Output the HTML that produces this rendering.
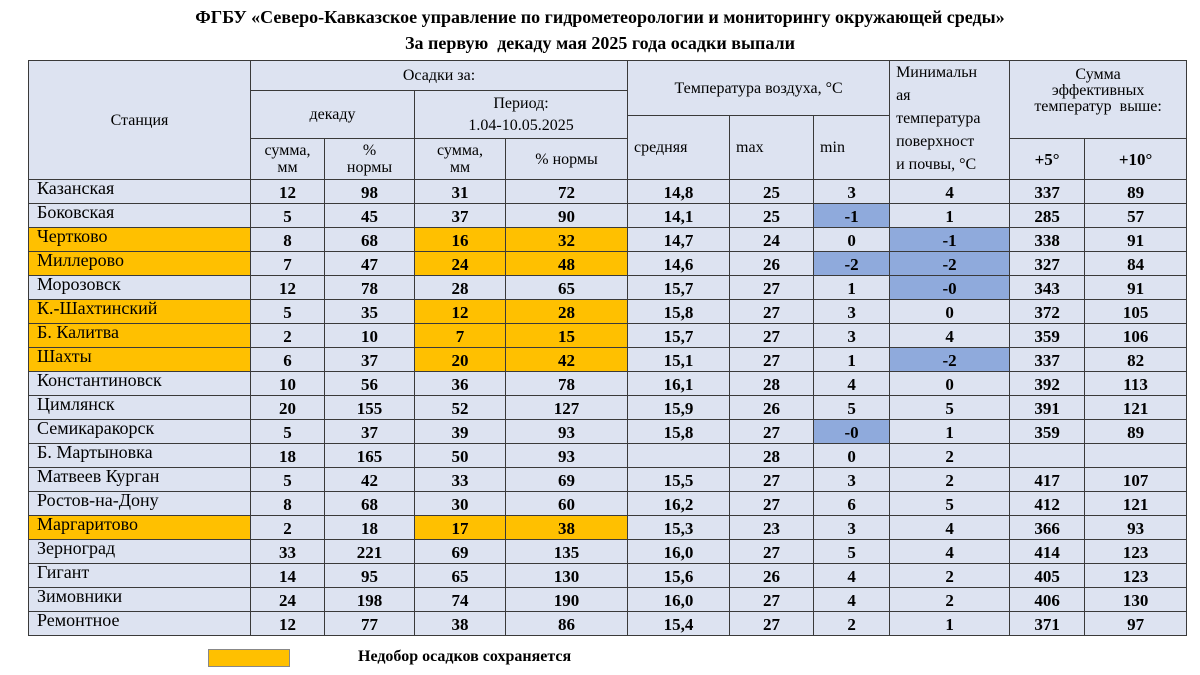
<!DOCTYPE html>
<html><head><meta charset="utf-8"><style>
body{margin:0;width:1200px;height:675px;background:#fff;font-family:"Liberation Serif",serif;position:relative;overflow:hidden}
.t{position:absolute;left:0;width:1200px;text-align:center;font-weight:bold;font-size:18px}
table{position:absolute;left:28px;top:60px;border-collapse:collapse;table-layout:fixed;width:1158px;background:#dde3f1}
td{border:1px solid #3a3a3a;padding:0;text-align:center;font-size:16px;line-height:17px;overflow:hidden;white-space:nowrap}
tr.d{height:24px}
tr.d td{height:20px;font-weight:bold;font-size:17px;padding:3px 0 0 0;line-height:20px}
tr.d td.s{text-align:left;font-weight:normal;padding:0 0 0 8px;height:23px;vertical-align:top;font-size:18px;line-height:17px}
.o{background:#ffc000}.b{background:#8faadc}
.l{text-align:left!important;padding-left:6px!important}
</style></head><body>
<div class="t" style="top:7px">ФГБУ «Северо-Кавказское управление по гидрометеорологии и мониторингу окружающей среды»</div>
<div class="t" style="top:33px">За первую&nbsp; декаду мая 2025 года осадки выпали</div>
<table>
<colgroup><col style="width:222px"><col style="width:74px"><col style="width:90px"><col style="width:91px"><col style="width:122px"><col style="width:102px"><col style="width:84px"><col style="width:76px"><col style="width:120px"><col style="width:75px"><col style="width:102px"></colgroup>
<tr style="height:30px"><td rowspan="4">Станция</td><td colspan="4">Осадки за:</td><td colspan="3" rowspan="2">Температура воздуха, °С</td><td rowspan="4" class="l" style="vertical-align:top;line-height:23px;padding-top:0;height:118px"><div style="height:118px;overflow:hidden">Минимальн<br>ая<br>температура<br>поверхност<br>и почвы, °С</div></td><td colspan="2" rowspan="3" style="line-height:16px;padding-top:6px;vertical-align:top">Сумма<br>эффективных<br>температур&nbsp; выше:</td></tr>
<tr style="height:25px"><td colspan="2" rowspan="2">декаду</td><td colspan="2" rowspan="2" style="line-height:22px">Период:<br>1.04-10.05.2025</td></tr>
<tr style="height:23px"><td rowspan="2" class="l">средняя</td><td rowspan="2" class="l">max</td><td rowspan="2" class="l">min</td></tr>
<tr style="height:41px"><td>сумма,<br>мм</td><td>%<br>нормы</td><td>сумма,<br>мм</td><td>% нормы</td><td style="font-weight:bold;font-size:17px">+5°</td><td style="font-weight:bold;font-size:17px">+10°</td></tr>
<tr class="d"><td class="s">Казанская</td><td>12</td><td>98</td><td>31</td><td>72</td><td>14,8</td><td>25</td><td>3</td><td>4</td><td>337</td><td>89</td></tr>
<tr class="d"><td class="s">Боковская</td><td>5</td><td>45</td><td>37</td><td>90</td><td>14,1</td><td>25</td><td class="b">-1</td><td>1</td><td>285</td><td>57</td></tr>
<tr class="d"><td class="s o">Чертково</td><td>8</td><td>68</td><td class="o">16</td><td class="o">32</td><td>14,7</td><td>24</td><td>0</td><td class="b">-1</td><td>338</td><td>91</td></tr>
<tr class="d"><td class="s o">Миллерово</td><td>7</td><td>47</td><td class="o">24</td><td class="o">48</td><td>14,6</td><td>26</td><td class="b">-2</td><td class="b">-2</td><td>327</td><td>84</td></tr>
<tr class="d"><td class="s">Морозовск</td><td>12</td><td>78</td><td>28</td><td>65</td><td>15,7</td><td>27</td><td>1</td><td class="b">-0</td><td>343</td><td>91</td></tr>
<tr class="d"><td class="s o">К.-Шахтинский</td><td>5</td><td>35</td><td class="o">12</td><td class="o">28</td><td>15,8</td><td>27</td><td>3</td><td>0</td><td>372</td><td>105</td></tr>
<tr class="d"><td class="s o">Б. Калитва</td><td>2</td><td>10</td><td class="o">7</td><td class="o">15</td><td>15,7</td><td>27</td><td>3</td><td>4</td><td>359</td><td>106</td></tr>
<tr class="d"><td class="s o">Шахты</td><td>6</td><td>37</td><td class="o">20</td><td class="o">42</td><td>15,1</td><td>27</td><td>1</td><td class="b">-2</td><td>337</td><td>82</td></tr>
<tr class="d"><td class="s">Константиновск</td><td>10</td><td>56</td><td>36</td><td>78</td><td>16,1</td><td>28</td><td>4</td><td>0</td><td>392</td><td>113</td></tr>
<tr class="d"><td class="s">Цимлянск</td><td>20</td><td>155</td><td>52</td><td>127</td><td>15,9</td><td>26</td><td>5</td><td>5</td><td>391</td><td>121</td></tr>
<tr class="d"><td class="s">Семикаракорск</td><td>5</td><td>37</td><td>39</td><td>93</td><td>15,8</td><td>27</td><td class="b">-0</td><td>1</td><td>359</td><td>89</td></tr>
<tr class="d"><td class="s">Б. Мартыновка</td><td>18</td><td>165</td><td>50</td><td>93</td><td></td><td>28</td><td>0</td><td>2</td><td></td><td></td></tr>
<tr class="d"><td class="s">Матвеев Курган</td><td>5</td><td>42</td><td>33</td><td>69</td><td>15,5</td><td>27</td><td>3</td><td>2</td><td>417</td><td>107</td></tr>
<tr class="d"><td class="s">Ростов-на-Дону</td><td>8</td><td>68</td><td>30</td><td>60</td><td>16,2</td><td>27</td><td>6</td><td>5</td><td>412</td><td>121</td></tr>
<tr class="d"><td class="s o">Маргаритово</td><td>2</td><td>18</td><td class="o">17</td><td class="o">38</td><td>15,3</td><td>23</td><td>3</td><td>4</td><td>366</td><td>93</td></tr>
<tr class="d"><td class="s">Зерноград</td><td>33</td><td>221</td><td>69</td><td>135</td><td>16,0</td><td>27</td><td>5</td><td>4</td><td>414</td><td>123</td></tr>
<tr class="d"><td class="s">Гигант</td><td>14</td><td>95</td><td>65</td><td>130</td><td>15,6</td><td>26</td><td>4</td><td>2</td><td>405</td><td>123</td></tr>
<tr class="d"><td class="s">Зимовники</td><td>24</td><td>198</td><td>74</td><td>190</td><td>16,0</td><td>27</td><td>4</td><td>2</td><td>406</td><td>130</td></tr>
<tr class="d"><td class="s">Ремонтное</td><td>12</td><td>77</td><td>38</td><td>86</td><td>15,4</td><td>27</td><td>2</td><td>1</td><td>371</td><td>97</td></tr>
</table>
<div style="position:absolute;left:208px;top:649px;width:82px;height:18px;background:#ffc000;border:1px solid #888;box-sizing:border-box"></div>
<div style="position:absolute;left:358px;top:648px;font-weight:bold;font-size:16px">Недобор осадков сохраняется</div>
</body></html>
